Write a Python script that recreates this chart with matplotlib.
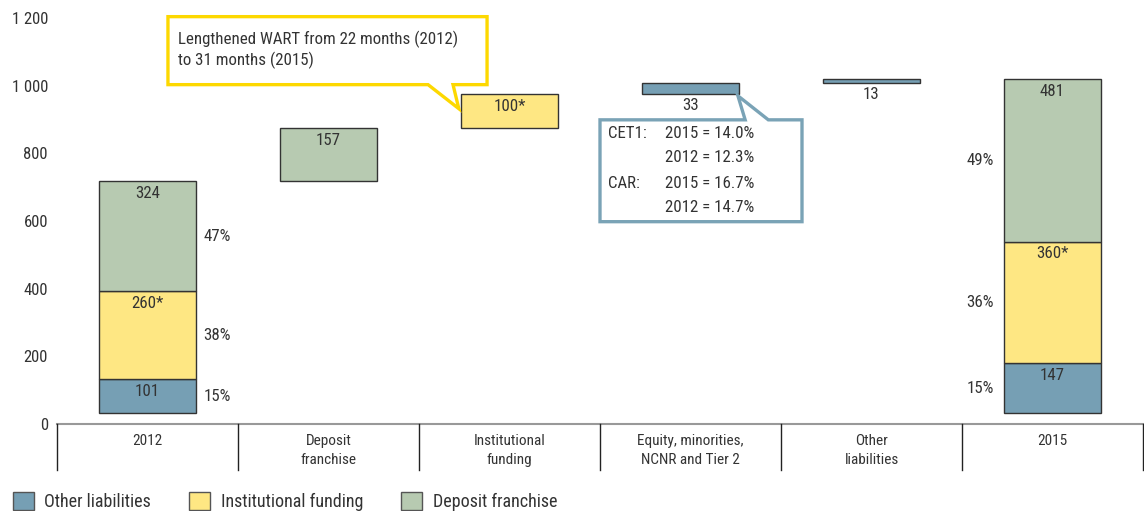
import numpy as np
import matplotlib.pyplot as plt
from matplotlib.patches import Polygon, Patch

plt.rcParams['font.family'] = ['Roboto Condensed', 'Liberation Sans']

# data
categories = ['2012', 'Deposit\nfranchise', 'Institutional\nfunding',
              'Equity, minorities,\nNCNR and Tier 2', 'Other\nliabilities', '2015']
baseline = 32
other_2012, inst_2012, dep_2012 = 101, 260, 324
dep_change = 157
inst_change = 100
equity_change = 33
other_change = 13
other_2015, inst_2015, dep_2015 = 147, 360, 481
pct_2012 = ['15%', '38%', '47%']
pct_2015 = ['15%', '36%', '49%']
yticks = [0, 200, 400, 600, 800, 1000, 1200]
ytick_labels = ['0', '200', '400', '600', '800', '1 000', '1 200']

c_blue = '#769fb4'
c_yellow = '#fee783'
c_green = '#b7cab1'
txt = '#333333'
fs = 12.2

fig = plt.figure(figsize=(11.44, 5.11), dpi=100)
ax = fig.add_axes([57/1144, 87/511, 1086/1144, 406/511])

w = 0.54
ec = dict(edgecolor='#333333', linewidth=1)

def label_top(x, top, s):
    ax.annotate(s, (x, top), xytext=(0, -3.5), textcoords='offset points',
                ha='center', va='top', fontsize=fs, color=txt)

def label_below(x, bottom, s):
    ax.annotate(s, (x, bottom), xytext=(0, -2.5), textcoords='offset points',
                ha='center', va='top', fontsize=fs, color=txt)

# 2012 stack
b = baseline
stack12 = [(other_2012, c_blue, '101'), (inst_2012, c_yellow, '260*'), (dep_2012, c_green, '324')]
for (v, c, s), p in zip(stack12, pct_2012):
    ax.bar(0, v, w, bottom=b, color=c, **ec)
    label_top(0, b + v, s)
    ax.annotate(p, (w/2, b + v/2), xytext=(5, 0), textcoords='offset points',
                ha='left', va='center', fontsize=fs, color=txt)
    b += v

# floating steps
ax.bar(1, dep_change, w, bottom=b, color=c_green, **ec)
label_top(1, b + dep_change, str(dep_change))
b += dep_change
ax.bar(2, inst_change, w, bottom=b, color=c_yellow, **ec)
label_top(2, b + inst_change, '%d*' % inst_change)
b += inst_change
ax.bar(3, equity_change, w, bottom=b, color=c_blue, **ec)
label_below(3, b, str(equity_change))
b += equity_change
ax.bar(4, other_change, w, bottom=b, color=c_blue, **ec)
label_below(4, b, str(other_change))

# 2015 stack
b = baseline
stack15 = [(other_2015, c_blue, '147'), (inst_2015, c_yellow, '360*'), (dep_2015, c_green, '481')]
for (v, c, s), p in zip(stack15, pct_2015):
    ax.bar(5, v, w, bottom=b, color=c, **ec)
    label_top(5, b + v, s)
    ax.annotate(p, (5 - w/2, b + v/2), xytext=(-7, 0), textcoords='offset points',
                ha='right', va='center', fontsize=fs, color=txt)
    b += v

# axes styling
ax.set_xlim(-0.5, 5.5)
ax.set_ylim(0, 1200)
for s in ['top', 'right', 'left', 'bottom']:
    ax.spines[s].set_visible(False)
ax.set_xticks([])
ax.set_yticks(yticks)
ax.set_yticklabels(ytick_labels, fontsize=12, color=txt)
ax.tick_params(axis='y', length=0, pad=6.5)

# category axis with separators
ax.plot([-0.5, 5.5], [0, 0], color='#999999', lw=1.5, clip_on=False)
for xs in np.arange(-0.5, 6.0, 1.0):
    ax.plot([xs, xs], [0, -136], color='#222222', lw=1, clip_on=False)
for i, c in enumerate(categories):
    ax.text(i, -30, c, ha='center', va='top', fontsize=11, color=txt,
            linespacing=1.45)

# yellow callout
x0, x1, y0, y1 = 0.113, 1.876, 1003, 1204
yel = [(x0, y1), (x1, y1), (x1, y0), (1.688, y0), (1.72, 932), (1.55, y0), (x0, y0)]
ax.add_patch(Polygon(yel, closed=True, facecolor='white', edgecolor='#fdd800',
                     linewidth=2.4, clip_on=False, zorder=3))
ax.text(0.168, 1136, 'Lengthened WART from 22 months (2012)', fontsize=fs,
        color=txt, va='center', zorder=4)
ax.text(0.168, 1074, 'to 31 months (2015)', fontsize=fs, color=txt,
        va='center', zorder=4)

# blue callout
x0, x1, y0, y1 = 2.5, 3.616, 598, 899
blu = [(x0, y0), (x0, y1), (3.302, y1), (3.262, 970), (3.43, y1), (x1, y1), (x1, y0)]
ax.add_patch(Polygon(blu, closed=True, facecolor='white', edgecolor='#7aa3b6',
                     linewidth=2.4, clip_on=False, zorder=3))
rows = [('CET1:', '2015 = 14.0%'), ('', '2012 = 12.3%'),
        ('CAR:', '2015 = 16.7%'), ('', '2012 = 14.7%')]
for (a, t), yy in zip(rows, [858, 787, 710, 639]):
    ax.text(2.544, yy, a, fontsize=fs, color=txt, va='center', zorder=4)
    ax.text(2.859, yy, t, fontsize=fs, color=txt, va='center', zorder=4)

# legend
handles = [Patch(facecolor=c_blue, edgecolor='#555555', label='Other liabilities'),
           Patch(facecolor=c_yellow, edgecolor='#555555', label='Institutional funding'),
           Patch(facecolor=c_green, edgecolor='#555555', label='Deposit franchise')]
fig.legend(handles=handles, loc='lower left', bbox_to_anchor=(-0.003, -0.032), ncol=3,
           frameon=False, fontsize=13, handlelength=1.15, handleheight=1.15,
           handletextpad=0.6, columnspacing=2.1, labelcolor=txt)

fig.savefig('out.png', dpi=100)
